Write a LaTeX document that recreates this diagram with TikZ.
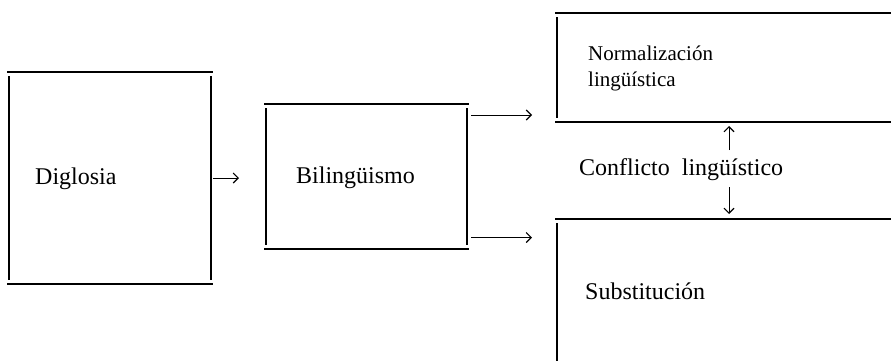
\documentclass[tikz,border=0pt]{standalone}
\usepackage{fontspec}
\setmainfont{Liberation Serif}
\usetikzlibrary{arrows.meta}
\begin{document}
\begin{tikzpicture}[x=1pt,y=-1pt]
\tikzset{
  hline/.style={line width=2.2pt},
  vline/.style={line width=1.8pt},
  arr/.style={line width=1pt, -{Straight Barb[length=5pt,width=10pt,line width=1.1pt]}},
  lbl/.style={font=\fontsize{24}{28}\selectfont, inner sep=0pt, anchor=base west, align=left},
  lblsmall/.style={lbl, font=\fontsize{21}{26}\selectfont},
  area/.style={draw=none, inner sep=0pt, outer sep=0pt}
}
\useasboundingbox[fill=white] (0,0) rectangle (891,360);

% box areas
\node[area, minimum width=202pt, minimum height=212pt] (dbox) at (110,178) {};
\node[area, minimum width=201pt, minimum height=145pt] (bbox) at (366.5,176.5) {};
\node[area, minimum width=340pt, minimum height=109pt, anchor=north west] (nbox) at (557,13) {};
\node[area, minimum width=340pt, minimum height=150pt, anchor=north west] (sbox) at (557,219) {};

% Diglosia box
\draw[hline] ([xshift=-2pt]dbox.north west) -- ([xshift=2pt]dbox.north east);
\draw[hline] ([xshift=-2pt]dbox.south west) -- ([xshift=2pt]dbox.south east);
\draw[vline] ([yshift=-4pt]dbox.north west) -- ([yshift=4pt]dbox.south west);
\draw[vline] ([yshift=-4pt]dbox.north east) -- ([yshift=4pt]dbox.south east);

% Bilinguismo box
\draw[hline] ([xshift=-2pt]bbox.north west) -- ([xshift=2pt]bbox.north east);
\draw[hline] ([xshift=-2pt]bbox.south west) -- ([xshift=2pt]bbox.south east);
\draw[vline] ([yshift=-4pt]bbox.north west) -- ([yshift=4pt]bbox.south west);
\draw[vline] ([yshift=-4pt]bbox.north east) -- ([yshift=4pt]bbox.south east);

% Normalizacion box (open to the right)
\draw[hline] ([xshift=-2pt]nbox.north west) -- (nbox.north east);
\draw[hline] ([xshift=-2pt]nbox.south west) -- (nbox.south east);
\draw[vline] ([yshift=-4pt]nbox.north west) -- ([yshift=4pt]nbox.south west);

% Substitucion box (open to the right and bottom)
\draw[hline] ([xshift=-2pt]sbox.north west) -- (sbox.north east);
\draw[vline] ([yshift=-4pt]sbox.north west) -- (sbox.south west);

% labels
\node[lbl] (dig) at (35,184) {Diglosia};
\node[lbl] (bil) at (296,183) {Bilingüismo};
\node[lblsmall] (norm) at (588,86) {Normalización\\lingüística};
\node[lbl] (conf) at (579,175) {Conflicto\hspace{12pt}lingüístico};
\node[lbl] (sub) at (585,299) {Substitución};

% connectors
\draw[arr, shorten <=2pt, shorten >=27pt] (dbox.east) -- (dbox.east -| bbox.west);
\coordinate (b1) at ([yshift=61.5pt]bbox.east);
\coordinate (b2) at ([yshift=-61pt]bbox.east);
\draw[arr, shorten <=4pt, shorten >=25pt] (b1) -- (b1 -| nbox.west);
\draw[arr, shorten <=4pt, shorten >=25pt] (b2) -- (b2 -| sbox.west);
\coordinate (cu) at (729,150);
\coordinate (cd) at (729,187);
\draw[arr, shorten >=4pt] (cu) -- (cu |- nbox.south);
\draw[arr, shorten >=5pt] (cd) -- (cd |- sbox.north);
\end{tikzpicture}
\end{document}
